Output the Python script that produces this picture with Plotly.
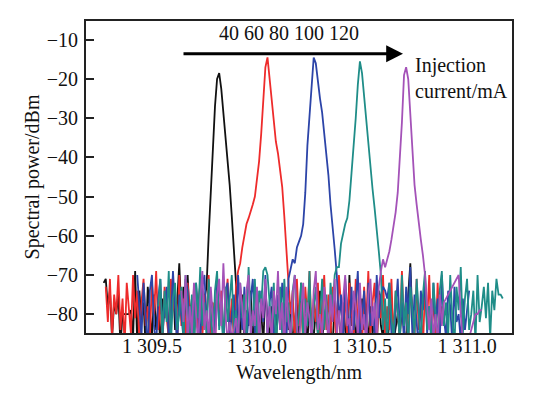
import plotly.graph_objects as go

STEP = 0.01  # nm, sampling interval of the spectra

# ---- data: spectral power (dBm) sampled every 0.01 nm from each start wavelength ----
start_40 = 1309.27
p_40 = [-72, -71, -78, -74, -86, -77, -80, -75, -88, -80,
        -80, -80, -80, -79, -86, -69, -88, -74, -82, -77,
        -89, -73, -80, -86, -75, -84, -78, -88, -76, -81,
        -74, -86, -79, -71, -84, -77, -67, -80, -73, -85,
        -70, -82, -76, -88, -74, -79, -72, -84, -76,
        -73, -60, -49, -37, -27, -20, -18.5, -22.5, -28.5, -33.5,
        -40, -47, -55, -65, -72,
        -80, -86, -75, -88, -79, -83, -74, -87, -81, -77,
        -85, -79, -88, -73, -82, -86, -78, -84, -89, -76,
        -83, -80, -87, -75, -84, -79, -88, -82, -77, -86,
        -72, -84, -80, -88, -76, -83, -86, -79, -85, -74,
        -87, -81, -78, -86, -83, -89, -75, -82, -80, -87,
        -77, -84, -88, -70, -83, -79, -86, -81, -88, -76,
        -84, -80, -87, -78, -85, -82, -89, -74, -83, -86,
        -79, -88, -81, -76, -87, -83, -80, -86, -78, -84,
        -88, -75, -67, -82, -86]

start_60 = 1309.28
p_60 = [-73, -82, -71, -86, -75, -80, -70, -84, -76, -88,
        -72, -79, -85, -70, -81, -74, -87, -77, -71, -83,
        -78, -86, -72, -80, -69, -84, -75, -89, -73, -81,
        -86, -71, -79, -74, -88, -70, -83, -76, -85, -72,
        -80, -87, -73, -78, -84, -71, -86, -75, -82, -70,
        -85, -77, -88, -72, -81, -74, -86, -79, -71, -84, -76, -87, -73, -69,
        -67, -63, -60, -57, -55.5, -54, -52, -50, -46, -41,
        -34, -25, -17, -14.5, -20, -26.5, -31, -36, -39, -43,
        -47.5, -55, -65, -72,
        -80, -74, -87, -71, -83, -77, -88, -73, -81, -69,
        -85, -76, -82, -72, -89, -78, -70, -84, -75, -86,
        -73, -81, -88, -70, -79, -85, -74, -87, -72, -80,
        -86, -71, -83, -76, -89, -73, -82, -69, -85, -77,
        -72, -88, -75, -81, -70, -86, -78, -84, -71, -87,
        -74, -80, -85, -69, -83, -76, -88, -72, -81, -86,
        -71, -84, -77, -89, -73, -82, -70, -86, -75, -88,
        -72, -84, -78]

start_80 = 1309.43
p_80 = [-70, -78, -86, -72, -80, -89, -74, -70, -83, -88,
        -76, -71, -85, -79, -73, -87, -82, -69, -77, -88,
        -75, -81, -86, -71, -74, -84, -89, -78, -72, -80,
        -87, -73, -70, -82, -88, -76, -79, -85, -71, -83,
        -77, -89, -74, -72, -86, -80, -75, -88, -70, -78,
        -84, -73, -87, -81, -76, -71, -85, -79, -88, -74,
        -82, -70, -86, -77, -73, -89, -80, -75, -84, -72,
        -78, -87, -71, -68, -66,
        -67, -63, -61.5, -60, -57, -49, -37, -30, -23, -14.5,
        -16, -21, -25, -28.5, -34, -40, -44.5, -52, -59, -63.5, -70,
        -82, -75, -88, -71, -79, -86, -73, -84, -77, -69,
        -87, -80, -74, -89, -72, -83, -78, -86, -70, -81,
        -75, -73, -74, -76, -72, -85, -88, -79, -71, -84,
        -77, -87, -73, -80, -68, -86, -75, -82, -89, -74,
        -79, -71, -85, -78, -88, -72, -83, -76, -87, -70,
        -81, -86, -74, -78, -88, -73, -82, -80, -87, -76,
        -84, -79, -74]

start_100 = 1309.53
p_100 = [-78, -71, -86, -74, -82, -69, -88, -76, -72, -84,
         -80, -73, -87, -70, -79, -85, -75, -89, -72, -81,
         -68, -83, -77, -86, -71, -80, -88, -74, -69, -84,
         -78, -87, -73, -82, -76, -70, -85, -79, -88, -72,
         -81, -75, -86, -68, -80, -83, -71, -87, -74, -78,
         -69, -68, -70, -76, -84, -72, -88, -79, -73, -86,
         -71, -82, -77, -89, -74, -70, -85, -80, -72, -87,
         -76, -83, -69, -88, -78, -73, -86, -81, -71, -84,
         -75, -88, -72, -79, -70, -68,
         -68, -62, -59.5, -57, -55.5, -51, -44, -37.5, -30, -21.5,
         -15.5, -18.5, -24.5, -31.5, -37, -42, -48, -53, -59.5, -64, -70,
         -84, -76, -88, -72, -81, -86, -74, -79, -87, -70,
         -83, -77, -89, -73, -80, -85, -71, -82, -88, -75,
         -69, -84, -78, -86, -72, -80, -87, -74, -69, -83,
         -77, -86, -70, -81, -88, -73, -79, -68, -85, -76,
         -71, -84, -80, -74, -87, -70, -82, -78, -73, -81,
         -72, -86, -74, -79, -71, -75, -75, -76]

start_120 = 1309.64
p_120 = [-74, -82, -70, -87, -78, -85, -72, -80, -88, -76,
         -69, -84, -79, -86, -73, -81, -89, -75, -71, -83,
         -67, -80, -87, -82, -86, -84, -81, -88, -72, -78,
         -85, -74, -70, -86, -79, -83, -73, -88, -76, -81,
         -71, -85, -78, -87, -74, -80, -69, -84, -77, -89,
         -73, -82, -86, -75, -70, -83, -88, -79, -72, -85,
         -77, -81, -87, -74, -69, -84, -80, -86, -73, -78,
         -88, -75, -82, -71, -85, -79, -87, -76, -70, -83,
         -81, -89, -74, -78, -86, -72, -84, -80, -88, -75,
         -71, -83, -77, -86, -73, -69, -66,
         -68, -66, -64, -61, -58, -54, -49, -41, -31, -19,
         -17, -20, -30, -39, -47, -52, -57, -61, -65, -70,
         -78, -84, -76, -86, -80, -88, -75, -83, -77, -76,
         -75, -74, -73, -72, -71, -70, -80, -87, -85, -88,
         -86, -84, -82, -80, -80, -79, -79]

series = [
    ("40 mA", start_40, p_40, "#111111"),
    ("60 mA", start_60, p_60, "#ee2b2b"),
    ("80 mA", start_80, p_80, "#2c44a8"),
    ("100 mA", start_100, p_100, "#1f8d88"),
    ("120 mA", start_120, p_120, "#a452b8"),
]

x_tickvals = [1309.5, 1310.0, 1310.5, 1311.0]
x_ticktext = ["1 309.5", "1 310.0", "1 310.5", "1 311.0"]
y_tickvals = [-80, -70, -60, -50, -40, -30, -20, -10]
y_ticktext = ["\u221280", "\u221270", "\u221260", "\u221250", "\u221240", "\u221230", "\u221220", "\u221210"]

FONT = "Liberation Serif, Times New Roman, serif"

fig = go.Figure()
for name, start, p, color in series:
    wl = [round(start + STEP * i, 4) for i in range(len(p))]
    fig.add_trace(go.Scatter(x=wl, y=p, mode="lines", name=name,
                             line=dict(color=color, width=1.8), showlegend=False))

fig.add_annotation(x=1310.695, y=-13.55, ax=1309.643, ay=-13.55,
                   xref="x", yref="y", axref="x", ayref="y",
                   showarrow=True, arrowhead=2, arrowsize=1.2, arrowwidth=2.8,
                   arrowcolor="#000000", standoff=0, text="")
fig.add_annotation(x=1310.15, y=-8.3, xref="x", yref="y", showarrow=False,
                   text="40 60 80 100 120", font=dict(size=20, color="#111"),
                   xanchor="center", yanchor="middle")
fig.add_annotation(x=1310.745, y=-19.8, xref="x", yref="y", showarrow=False,
                   text="Injection<br>current/mA", font=dict(size=20, color="#111"),
                   xanchor="left", yanchor="middle", align="left")

# page body has an 8px margin: figure is placed at (8, 8) in the 557x393 window
fig.update_layout(
    width=549, height=385,
    margin=dict(l=78, r=45, t=11, b=60),
    paper_bgcolor="white", plot_bgcolor="white",
    font=dict(family=FONT, size=20, color="#111"),
)
fig.update_xaxes(range=[1309.186, 1311.214], tickvals=x_tickvals, ticktext=x_ticktext,
                 showgrid=False, zeroline=False, showline=True, mirror=True,
                 linecolor="#222", linewidth=2, ticks="", ticklabelstandoff=-6,
                 title=dict(text="Wavelength/nm", standoff=9, font=dict(size=20)))
fig.update_yaxes(range=[-84.8, -5.2], tickvals=y_tickvals, ticktext=y_ticktext,
                 showgrid=False, zeroline=False, showline=True, mirror=True,
                 linecolor="#222", linewidth=2, ticks="inside", ticklen=8,
                 tickwidth=1.5, tickcolor="#222", ticklabelstandoff=2,
                 title=dict(text="Spectral power/dBm", standoff=2, font=dict(size=20)))

fig.write_html("out.html")
